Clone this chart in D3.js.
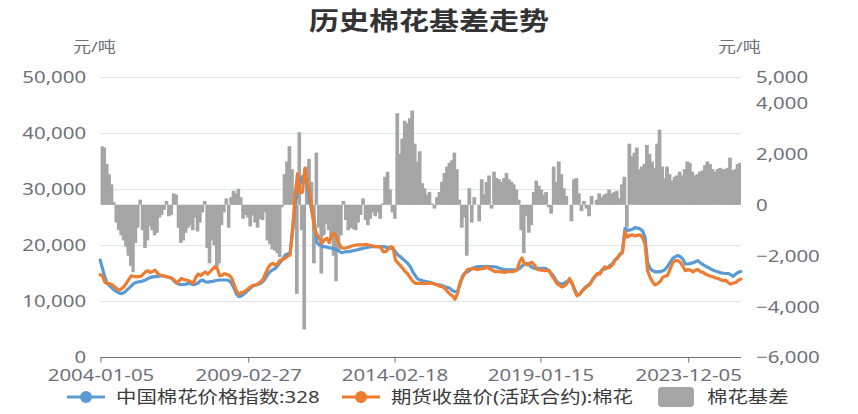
<!DOCTYPE html>
<html><head><meta charset="utf-8">
<script src="https://cdn.jsdelivr.net/npm/d3@7"></script>
<style>body{margin:0;background:#fff}svg{display:block}</style>
</head><body><svg id="c" width="858" height="414"></svg>
<script>
// ---- data (monthly, starting 2004-01) ----
const firstMonth = "2004-01-01";
const basisValues = [
2300,2250,1600,1200,800,100,-700,-1000,-1200,-1400,-1650,-2000,
-2400,-2650,-1500,-900,200,-1000,-1700,-1400,-850,-1000,-1200,-1100,
-500,-400,-200,150,-450,-400,450,400,-900,-1500,-1400,-1100,
-900,-800,-1000,-500,-1050,-700,-300,150,-1700,-2300,-1400,-1600,
-2450,-2300,-800,-300,250,-900,300,550,450,630,300,-550,
-400,-500,-850,-420,-700,-900,-550,-600,-300,-1400,-1550,-1750,
-1800,-1900,-2050,-100,1200,1700,2300,1400,600,-3500,2850,-1000,
-4900,1500,1800,900,-2300,2050,-900,-2700,-1200,-750,-1000,-1400,
-2000,-3000,-1800,-1200,150,-600,-1000,-900,-950,-1000,-700,-400,
250,-600,-800,-550,-300,-450,-300,-550,50,1100,1300,600,
-300,-550,3600,2000,2600,3300,3200,3400,3700,2400,1700,2100,
850,650,400,500,50,-150,300,500,900,1250,1500,1650,
1750,2050,1400,200,-900,-500,-2000,650,-700,300,0,-650,
1000,400,900,1150,-150,1300,1050,1000,900,1050,1250,1000,
900,800,600,200,-1000,-1900,-450,-1100,-800,500,950,750,
600,400,500,-100,-350,1500,900,1700,1200,650,350,0,
-650,1000,1050,450,-250,150,-150,-450,350,0,200,450,
300,400,450,600,450,500,550,250,800,1100,-900,2400,
1900,2050,2250,1400,1500,1600,2350,2000,1700,1450,2400,2950,
1500,1050,1500,1200,950,1100,1150,1300,1150,1400,1700,1650,
1300,1150,1200,1300,1350,1550,1700,1600,1400,1300,1400,1450,
1400,1400,1450,1850,1350,1400,1600,1650,1550];
const indexValues = [
17400,15800,14300,13200,12800,12400,12000,11700,11500,11400,11600,12000,
12400,12800,13200,13400,13500,13540,13700,13840,14100,14300,14400,14450,
14500,14550,14600,14550,14400,14300,14140,13600,13250,13100,13000,13050,
13100,13250,13150,13000,13100,13300,13700,13840,13500,13450,13540,13600,
13700,13800,13840,13840,13840,13840,13700,13200,12300,11300,10860,11000,
11300,11700,12050,12500,12800,12950,13100,13250,13600,14200,14900,15400,
15700,15930,16400,17000,17500,18300,18500,18600,22500,26900,29800,31000,
32300,32500,31000,28000,26000,24000,20500,20100,19800,19800,19700,19600,
19500,19400,19200,19000,18700,18800,18900,18900,19000,19100,19200,19300,
19400,19500,19600,19700,19800,19800,19800,19800,19800,19800,19700,19600,
19600,19400,18900,18300,18000,17600,17200,16800,16200,15300,14600,14000,
13840,13700,13600,13500,13400,13250,13100,13000,12950,12800,12650,12500,
12350,11900,11750,11800,13000,14500,15100,15300,15600,15930,16100,16220,
16220,16220,16220,16220,16220,16220,16200,16100,15930,15800,15700,15650,
15630,15630,15630,15700,15900,16300,16700,16820,16500,16100,15930,15930,
15930,15930,15930,15800,15400,14900,14300,13500,13200,13100,13300,13600,
13840,13200,12200,11200,11300,11900,12400,12800,13100,13800,14400,14800,
15100,15700,15800,16000,16400,16700,17400,17800,18300,19000,23000,22700,
22800,22900,23200,23100,23000,22600,21500,17000,15900,15500,15300,15300,
15320,15500,15700,16300,17000,17700,18000,18200,18000,17600,16700,16700,
16800,16900,17100,17300,16900,16600,16300,16100,15800,15600,15400,15300,
15100,15050,15000,15000,14800,14500,14900,15200,15350];
const futuresValues = [
14800,14500,13400,13250,13200,13000,12650,12300,12050,12300,12700,13300,
14000,14600,14500,14400,14450,14500,14900,15300,15500,15200,15400,15600,
15000,14730,14600,14500,14440,14300,14140,13840,13300,13700,14140,13900,
13840,13700,13500,13250,14300,14900,14600,15000,15300,14900,15300,15800,
16220,15800,14600,14700,15000,14800,14700,14200,13000,11900,11300,11600,
11700,12000,12300,12650,12900,12950,13200,13540,14000,15040,16000,16600,
16800,16500,16800,17400,17500,17700,18100,18300,23000,28500,32800,29500,
29500,33800,31500,29500,26000,23000,22000,21300,20400,21000,21300,20500,
22000,22200,21300,20300,19600,19500,19600,19700,19900,20000,20100,20100,
20100,20100,20200,20100,20000,19900,19800,19800,19700,18900,18900,19300,
19800,19600,17400,16900,16400,15900,15300,14900,14200,13600,13250,13250,
13250,13250,13200,13250,13250,13250,13100,12950,12700,12650,12300,11750,
11300,11000,10400,11400,13300,14300,15000,15700,15800,15900,15800,15700,
15800,15900,15930,16200,15800,15600,15320,15400,15300,15320,15200,15320,
15320,15320,15400,15630,17000,17800,16800,16520,16800,17000,16500,15800,
15630,15600,15500,15500,15500,14600,14000,13200,12900,12600,12800,13200,
14100,13300,12000,11000,11300,11800,12300,12700,13000,13800,14500,15000,
14900,15600,16200,16000,16100,16500,17300,17700,18500,18700,22500,21500,
21800,21900,21700,21800,21900,21400,20300,15500,14300,13500,12950,13200,
13600,14300,14500,14700,15800,16900,17300,17300,17000,16300,15500,15700,
15600,15300,15600,15700,15320,15200,14900,14700,14500,14400,14200,14100,
13900,13700,13800,13400,13100,13300,13400,13800,14000];
const tickDates = ["2004-01-05","2009-02-27","2014-02-18","2019-01-15","2023-12-05"];
const leftTicks = [0,10000,20000,30000,40000,50000];
const rightTicks = [-6000,-4000,-2000,0,2000,4000,5000];
const seriesNames = ["中国棉花价格指数:328","期货收盘价(活跃合约):棉花","棉花基差"];
const titleText = "历史棉花基差走势";
const unitText = "元/吨";

// ---- layout ----
const P = {l:100.5, r:741, t:77.5, b:357.5};
const SX = 1.2;
const FONT = "'Microsoft YaHei','Noto Sans','Noto Sans CJK SC',sans-serif";
const C = {blue:"#5B9BD5", orange:"#ED7D31", gray:"#A5A5A5", axis:"#6E7079", grid:"#E0E6F1", text:"#6E7079", legend:"#3c3c3c"};

const parse = d3.timeParse("%Y-%m-%d");
const start = parse(firstMonth);
const months = d3.timeMonth.range(start, d3.timeMonth.offset(start, basisValues.length + 1));
const tickD = tickDates.map(parse);

const x = d3.scaleTime().domain(tickD).range([100.5, 248.2, 394.5, 540.5, 688.2]);
const yL = d3.scaleLinear().domain([0, 50000]).range([P.b, P.t]);
const yR = d3.scaleLinear().domain([-6000, 5000]).range([P.b, P.t]);

const svg = d3.select("#c").attr("font-family", FONT);
svg.append("rect").attr("width",858).attr("height",414).attr("fill","#fff");

function stext(g, px, py, str, size, fill, anchor, weight){
  return g.append("text").attr("transform",`translate(${px},${py}) scale(${SX},1)`)
    .attr("font-size",size).attr("fill",fill).attr("text-anchor",anchor||"start")
    .attr("font-weight",weight||"normal").text(str);
}

// title & units
stext(svg, 429, 30, titleText, 25, "#333", "middle", "bold");
stext(svg, 73, 52, unitText, 15, C.text, "start");
stext(svg, 718, 52, unitText, 15, C.text, "start");

// grid
svg.append("g").selectAll("line").data(leftTicks.filter(d=>d>0)).join("line")
  .attr("x1",P.l).attr("x2",P.r).attr("y1",d=>yL(d)).attr("y2",d=>yL(d))
  .attr("stroke",C.grid).attr("stroke-width",1);

// clip
svg.append("clipPath").attr("id","clip").append("rect")
  .attr("x",P.l).attr("y",P.t-20).attr("width",P.r-P.l).attr("height",P.b-P.t+40);

// basis bars
svg.append("g").attr("clip-path","url(#clip)").selectAll("rect").data(basisValues).join("rect")
  .attr("x",(d,i)=>x(months[i]))
  .attr("width",(d,i)=>x(months[i+1])-x(months[i])+1.2)
  .attr("y",d=>Math.min(yR(d),yR(0)))
  .attr("height",d=>Math.abs(yR(d)-yR(0)))
  .attr("fill",C.gray);

// axes
const gx = svg.append("g").attr("transform",`translate(0,${P.b})`)
  .call(d3.axisBottom(x).tickValues(tickD).tickFormat(d3.timeFormat("%Y-%m-%d")).tickSize(5).tickSizeOuter(0).tickPadding(6));
gx.select(".domain").remove();
gx.append("line").attr("x1",P.l).attr("x2",P.r).attr("stroke",C.axis).attr("stroke-width",1.2);
gx.selectAll(".tick line").attr("stroke",C.axis);
gx.selectAll("text").attr("font-size",17).attr("font-family",FONT).attr("fill",C.text).attr("transform",`scale(${SX},1)`);

const gl = svg.append("g").attr("transform",`translate(${P.l},0)`)
  .call(d3.axisLeft(yL).tickValues(leftTicks).tickFormat(d3.format(",")).tickSize(0).tickPadding(12));
gl.select(".domain").remove();
gl.selectAll("text").attr("font-size",17).attr("font-family",FONT).attr("fill",C.text).attr("transform",`scale(${SX},1)`);

const gr = svg.append("g").attr("transform",`translate(${P.r},0)`)
  .call(d3.axisRight(yR).tickValues(rightTicks).tickFormat(d3.format(",")).tickSize(0).tickPadding(12.5));
gr.select(".domain").remove();
gr.selectAll("text").attr("font-size",17).attr("font-family",FONT).attr("fill",C.text).attr("transform",`scale(${SX},1)`);

// lines
const line = vals => d3.line().x((d,i)=>x(months[i])).y(d=>yL(d))(vals);
svg.append("path").attr("d",line(indexValues)).attr("fill","none").attr("stroke",C.blue)
  .attr("stroke-width",3.2).attr("stroke-linejoin","round").attr("stroke-linecap","round");
svg.append("path").attr("d",line(futuresValues)).attr("fill","none").attr("stroke",C.orange)
  .attr("stroke-width",3.2).attr("stroke-linejoin","round").attr("stroke-linecap","round");

// legend
const LY = 397;
const lg = svg.append("g");
[[67,105,C.blue,116],[342,380,C.orange,391]].forEach((it,k)=>{
  lg.append("line").attr("x1",it[0]).attr("x2",it[1]).attr("y1",LY).attr("y2",LY).attr("stroke",it[2]).attr("stroke-width",3);
  lg.append("circle").attr("cx",(it[0]+it[1])/2).attr("cy",LY).attr("r",6).attr("fill",it[2]);
  stext(lg, it[3], LY+6, seriesNames[k], 17, C.legend, "start");
});
lg.append("rect").attr("x",658).attr("y",LY-10).attr("width",36).attr("height",20).attr("rx",4).attr("fill",C.gray);
stext(lg, 707, LY+6, seriesNames[2], 17, C.legend, "start");
</script></body></html>
